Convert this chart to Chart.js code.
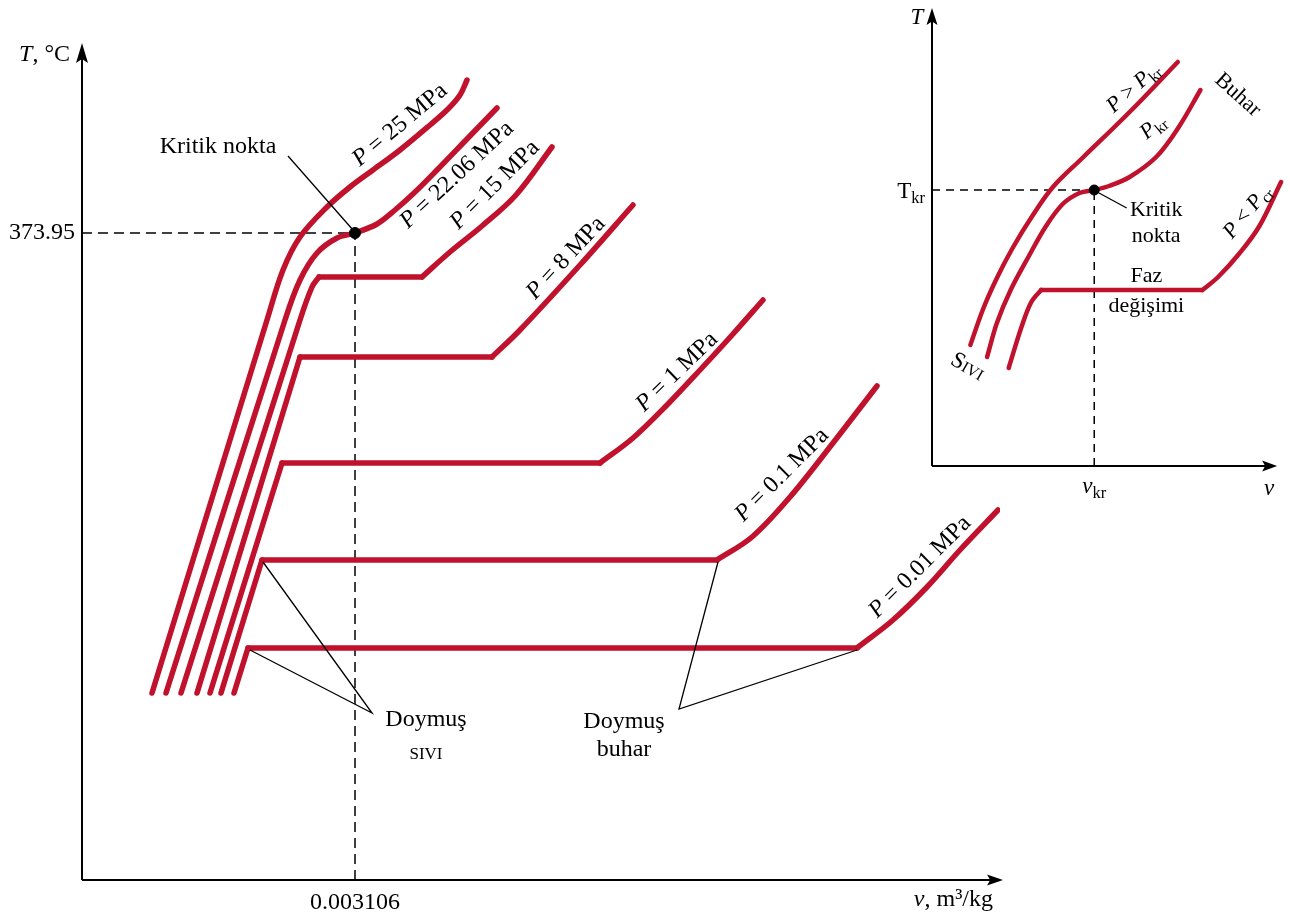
<!DOCTYPE html>
<html>
<head>
<meta charset="utf-8">
<script src="https://cdn.jsdelivr.net/npm/chart.js@4.4.1/dist/chart.umd.min.js"></script>
<style>
  html, body { margin: 0; padding: 0; background: #fff; }
  #wrap { position: relative; width: 1290px; height: 916px; }
  #main { position: absolute; left: 0; top: 0; width: 1290px; height: 916px; }
  #inset { position: absolute; left: 880px; top: 0; width: 410px; height: 500px; }
</style>
</head>
<body>
<div id="wrap">
  <canvas id="main" width="1290" height="916"></canvas>
  <canvas id="inset" width="410" height="500"></canvas>
</div>
<script>
// şematik T-v diyagramı, eksenler göreli birimde (ölçeksiz)
const FONT = '"Liberation Serif", "DejaVu Serif", serif';
const RED = '#c0112d';

// ---- ana diyagram: izobarlar ----
const v25 = [7.0, 18.5, 20.1, 21.8, 24.5, 26.8, 29.1, 31.8, 34.8, 36.6, 37.8, 38.5];
const t25 = [18.7, 56.0, 61.0, 64.3, 67.3, 69.3, 71.0, 73.0, 75.5, 77.1, 78.5, 80.0];
const v2206 = [8.4, 20.3, 21.8, 23.5, 25.5, 27.3, 29.5, 31.3, 33.2, 35.5, 38.5, 41.5];
const t2206 = [18.7, 56.0, 60.0, 62.7, 64.2, 64.7, 65.6, 67.0, 68.7, 71.0, 74.1, 77.2];
const v15 = [9.9, 21.8, 23.0, 23.7, 34.0, 36.8, 40.0, 43.4, 47.0];
const t15 = [18.7, 56.0, 59.3, 60.3, 60.3, 62.8, 65.4, 68.5, 73.3];
const v8 = [11.5, 21.8, 41.0, 43.8, 49.8, 55.1];
const t8 = [18.7, 52.3, 52.3, 55.0, 61.5, 67.5];
const v1 = [12.8, 20.0, 51.8, 55.1, 58.5, 61.8, 65.1, 68.1];
const t1 = [18.7, 41.7, 41.7, 44.2, 47.5, 51.0, 54.6, 58.0];
const v01 = [13.9, 18.0, 63.5, 67.0, 70.8, 75.1, 79.5];
const t01 = [18.7, 32.0, 32.0, 34.3, 38.3, 43.7, 49.4];
const v001 = [15.2, 16.6, 77.5, 81.1, 84.5, 87.8, 91.6];
const t001 = [18.7, 23.2, 23.2, 26.0, 29.3, 33.0, 37.0];

const isoV = [v25, v2206, v15, v8, v1, v01, v001];
const isoT = [t25, t2206, t15, t8, t1, t01, t001];
const isoNames = ['25', '22.06', '15', '8', '1', '0.1', '0.01'];
// faz değişimi (yatay kısım) hangi iki nokta arasında: [başlangıç, bitiş]
const isoFlat = [null, null, [3, 4], [1, 2], [1, 2], [1, 2], [1, 2]];

// kritik nokta ve eksen işaretleri
const critPoint = [27.3, 64.7];
const tTicks = [64.7];
const tTickLabels = ['373.95'];
const vTicks = [27.3];
const vTickLabels = ['0.003106'];

// doymuş sıvı / buhar noktaları (işaret çizgileri için)
const satLiqV = [18.1, 16.8];
const satLiqT = [31.8, 23.0];
const satVapV = [63.6, 77.5];
const satVapT = [31.8, 23.0];

// ---- küçük diyagram ----
const pHighV = [3.9, 5.2, 6.6, 8.2, 10.2, 12.3, 15.3, 20.1, 25.0];
const pHighT = [12.1, 15.7, 18.8, 21.8, 25.0, 27.9, 30.8, 35.4, 40.4];
const pCritV = [5.6, 6.6, 8.0, 9.8, 11.6, 13.3, 15.0, 16.5, 18.0, 20.1, 22.8, 25.1, 27.3];
const pCritT = [10.9, 14.3, 17.6, 20.9, 24.0, 26.2, 27.3, 27.6, 28.0, 28.9, 30.9, 33.9, 37.6];
const pLowV = [7.8, 9.1, 10.1, 11.1, 27.5, 29.1, 31.3, 33.3, 35.5];
const pLowT = [9.8, 13.9, 16.4, 17.6, 17.6, 18.9, 21.3, 24.0, 28.4];
const insetCrit = [16.5, 27.6];

function pts(vs, ts) {
  return vs.map((v, i) => ({ x: v, y: ts[i] }));
}

function redLine(data, tension, width) {
  return {
    data: data, showLine: true, pointRadius: 0, fill: false,
    borderColor: RED, borderWidth: width, tension: tension,
    borderCapStyle: 'round', borderJoinStyle: 'round', order: 2
  };
}

// yatay kısım düz, geri kalanı yumuşak çizilsin diye izobarı parçalara böl
function isobarSets(vs, ts, flat, width) {
  const all = pts(vs, ts);
  if (!flat) return [redLine(all, 0.35, width)];
  return [
    redLine(all.slice(0, flat[0] + 1), 0.35, width),
    redLine(all.slice(flat[0], flat[1] + 1), 0, width),
    redLine(all.slice(flat[1]), 0.35, width)
  ];
}

function blackLine(data, dash, width) {
  return {
    data: data, showLine: true, pointRadius: 0, fill: false,
    borderColor: '#000', borderWidth: width, borderDash: dash, tension: 0,
    order: dash.length ? 3 : 1
  };
}

// zengin metin: [metin, stil] — 'i' italik, 'sub' alt simge, 'sc' küçük büyük harf
function richText(ctx, px, py, parts, size, angle, align) {
  const font = p => {
    const s = p[1] === 'sub' ? size * 0.72 : size;
    return (p[1] === 'i' ? 'italic ' : '') + (p[1] === 'sc' ? 'small-caps ' : '') + s + 'px ' + FONT;
  };
  ctx.save();
  ctx.translate(px, py);
  ctx.rotate((angle || 0) * Math.PI / 180);
  ctx.textBaseline = 'middle';
  ctx.textAlign = 'left';
  ctx.fillStyle = '#000';
  let w = 0;
  parts.forEach(p => { ctx.font = font(p); w += ctx.measureText(p[0]).width; });
  let cx = align === 'left' ? 0 : align === 'right' ? -w : -w / 2;
  parts.forEach(p => {
    ctx.font = font(p);
    ctx.fillText(p[0], cx, p[1] === 'sub' ? size * 0.28 : 0);
    cx += ctx.measureText(p[0]).width;
  });
  ctx.restore();
}

function arrow(ctx, x, y, dir, len, half) {
  ctx.beginPath();
  if (dir === 'up') {
    ctx.moveTo(x, y); ctx.lineTo(x - half, y + len); ctx.lineTo(x, y + len * 0.8); ctx.lineTo(x + half, y + len);
  } else {
    ctx.moveTo(x, y); ctx.lineTo(x - len, y - half); ctx.lineTo(x - len * 0.8, y); ctx.lineTo(x - len, y + half);
  }
  ctx.closePath();
  ctx.fill();
}

// izobar etiketlerinin yeri (göreli birim) ve açısı
const isoLabelPos = [[31.8, 75.5, -40], [37.5, 70.5, -43], [41.3, 69.5, -45], [48.4, 62.2, -47],
                     [59.5, 50.8, -44], [70.0, 40.5, -45], [83.8, 31.3, -45]];

const mainDecor = {
  id: 'mainDecor',
  afterDraw(chart) {
    const { ctx, chartArea: a, scales: { x, y } } = chart;
    ctx.save();
    ctx.strokeStyle = '#000';
    ctx.fillStyle = '#000';
    ctx.lineWidth = 2;
    ctx.beginPath();
    ctx.moveTo(a.left, a.bottom); ctx.lineTo(a.left, a.top + 10);
    ctx.moveTo(a.left, a.bottom); ctx.lineTo(a.right - 5, a.bottom);
    ctx.stroke();
    arrow(ctx, a.left, a.top + 1, 'up', 20, 6);
    arrow(ctx, a.right + 3, a.bottom, 'right', 16, 5.5);
    ctx.restore();

    tTicks.forEach((t, i) => richText(ctx, a.left - 7, y.getPixelForValue(t), [[tTickLabels[i], '']], 24, 0, 'right'));
    vTicks.forEach((v, i) => richText(ctx, x.getPixelForValue(v), a.bottom + 23, [[vTickLabels[i], '']], 24, 0, 'center'));
    richText(ctx, a.left - 12, a.top + 13, [['T', 'i'], [', °C', '']], 24, 0, 'right');
    richText(ctx, a.right - 7, a.bottom + 20, [['v', 'i'], [', m³/kg', '']], 24, 0, 'right');

    isoNames.forEach((n, i) => {
      const p = isoLabelPos[i];
      richText(ctx, x.getPixelForValue(p[0]), y.getPixelForValue(p[1]), [['P', 'i'], [' = ' + n + ' MPa', '']], 24, p[2], 'center');
    });

    richText(ctx, x.getPixelForValue(13.6), y.getPixelForValue(73.3), [['Kritik nokta', '']], 24, 0, 'center');
    richText(ctx, x.getPixelForValue(34.4), y.getPixelForValue(16.0), [['Doymuş', '']], 24, 0, 'center');
    richText(ctx, x.getPixelForValue(34.4), y.getPixelForValue(12.7), [['sıvı', 'sc']], 24, 0, 'center');
    richText(ctx, x.getPixelForValue(54.2), y.getPixelForValue(15.8), [['Doymuş', '']], 24, 0, 'center');
    richText(ctx, x.getPixelForValue(54.2), y.getPixelForValue(13.0), [['buhar', '']], 24, 0, 'center');
  }
};

const leaderTip = { liq: [29.0, 16.7], vap: [59.7, 17.1], crit: [20.6, 72.4] };

const mainSets = [
  { data: [{ x: critPoint[0], y: critPoint[1] }], pointRadius: 5.5, pointBackgroundColor: '#000',
    pointBorderColor: '#000', showLine: false, order: 0 },
  blackLine([{ x: leaderTip.crit[0], y: leaderTip.crit[1] }, { x: critPoint[0] - 0.2, y: critPoint[1] + 0.3 }], [], 1.3),
  blackLine([{ x: satLiqV[0], y: satLiqT[0] }, { x: leaderTip.liq[0], y: leaderTip.liq[1] }, { x: satLiqV[1], y: satLiqT[1] }], [], 1.3),
  blackLine([{ x: satVapV[0], y: satVapT[0] }, { x: leaderTip.vap[0], y: leaderTip.vap[1] }, { x: satVapV[1], y: satVapT[1] }], [], 1.3),
  blackLine([{ x: 0, y: critPoint[1] }, { x: critPoint[0], y: critPoint[1] }], [10, 6], 1.5),
  blackLine([{ x: critPoint[0], y: 0 }, { x: critPoint[0], y: critPoint[1] }], [10, 6], 1.5)
];
isoV.forEach((vs, i) => mainSets.push(...isobarSets(vs, isoT[i], isoFlat[i], 5.5)));

new Chart(document.getElementById('main'), {
  type: 'scatter',
  data: { datasets: mainSets },
  options: {
    responsive: false,
    animation: false,
    layout: { padding: { left: 82, right: 290, top: 42, bottom: 36 } },
    scales: {
      x: { type: 'linear', min: 0, max: 91.8, display: false },
      y: { type: 'linear', min: 0, max: 83.8, display: false }
    },
    plugins: { legend: { display: false }, tooltip: { enabled: false } }
  },
  plugins: [mainDecor]
});

// ---- küçük diyagram ----
const insetDecor = {
  id: 'insetDecor',
  afterDraw(chart) {
    const { ctx, chartArea: a, scales: { x, y } } = chart;
    const xEnd = x.getPixelForValue(35.1);
    ctx.save();
    ctx.strokeStyle = '#000';
    ctx.fillStyle = '#000';
    ctx.lineWidth = 2;
    ctx.beginPath();
    ctx.moveTo(a.left, a.bottom); ctx.lineTo(a.left, a.top + 5);
    ctx.moveTo(a.left, a.bottom); ctx.lineTo(xEnd - 5, a.bottom);
    ctx.stroke();
    arrow(ctx, a.left, a.top - 2, 'up', 17, 5.5);
    arrow(ctx, xEnd, a.bottom, 'right', 15, 5.5);
    ctx.restore();

    richText(ctx, a.left - 15, a.top + 8, [['T', 'i']], 23, 0, 'center');
    richText(ctx, a.left - 7, y.getPixelForValue(insetCrit[1]) + 2, [['T', ''], ['kr', 'sub']], 23, 0, 'right');
    richText(ctx, x.getPixelForValue(insetCrit[0]), a.bottom + 21, [['v', 'i'], ['kr', 'sub']], 23, 0, 'center');
    richText(ctx, xEnd - 8, a.bottom + 23, [['v', 'i']], 23, 0, 'center');

    richText(ctx, x.getPixelForValue(20.5), y.getPixelForValue(37.8), [['P', 'i'], [' > ', ''], ['P', 'i'], ['kr', 'sub']], 22, -42, 'center');
    richText(ctx, x.getPixelForValue(22.5), y.getPixelForValue(33.9), [['P', 'i'], ['kr', 'sub']], 22, -40, 'center');
    richText(ctx, x.getPixelForValue(31.1), y.getPixelForValue(37.1), [['Buhar', '']], 22, 42, 'center');
    richText(ctx, x.getPixelForValue(32.1), y.getPixelForValue(25.4), [['P', 'i'], [' < ', ''], ['P', 'i'], ['cr', 'sub']], 22, -50, 'center');
    richText(ctx, x.getPixelForValue(22.8), y.getPixelForValue(25.6), [['Kritik', '']], 22, 0, 'center');
    richText(ctx, x.getPixelForValue(22.8), y.getPixelForValue(23.0), [['nokta', '']], 22, 0, 'center');
    richText(ctx, x.getPixelForValue(21.8), y.getPixelForValue(19.0), [['Faz', '']], 22, 0, 'center');
    richText(ctx, x.getPixelForValue(21.8), y.getPixelForValue(16.0), [['değişimi', '']], 22, 0, 'center');
    richText(ctx, x.getPixelForValue(3.6), y.getPixelForValue(9.9), [['Sıvı', 'sc']], 23, 30, 'center');
  }
};

new Chart(document.getElementById('inset'), {
  type: 'scatter',
  data: {
    datasets: [
      { data: [{ x: insetCrit[0], y: insetCrit[1] }], pointRadius: 5, pointBackgroundColor: '#000',
        pointBorderColor: '#000', showLine: false, order: 0 },
      blackLine([{ x: insetCrit[0] + 0.3, y: insetCrit[1] - 0.2 }, { x: 19.8, y: 25.8 }], [], 1.3),
      blackLine([{ x: 0, y: insetCrit[1] }, { x: insetCrit[0], y: insetCrit[1] }], [8, 6], 1.5),
      blackLine([{ x: insetCrit[0], y: 0 }, { x: insetCrit[0], y: insetCrit[1] }], [8, 6], 1.5),
      ...isobarSets(pHighV, pHighT, null, 4.5),
      ...isobarSets(pCritV, pCritT, null, 4.5),
      ...isobarSets(pLowV, pLowT, [3, 4], 4.5)
    ]
  },
  options: {
    responsive: false,
    animation: false,
    layout: { padding: { left: 52, right: 0, top: 10, bottom: 34 } },
    scales: {
      x: { type: 'linear', min: 0, max: 35.8, display: false },
      y: { type: 'linear', min: 0, max: 45.6, display: false }
    },
    plugins: { legend: { display: false }, tooltip: { enabled: false } }
  },
  plugins: [insetDecor]
});
</script>
</body>
</html>
